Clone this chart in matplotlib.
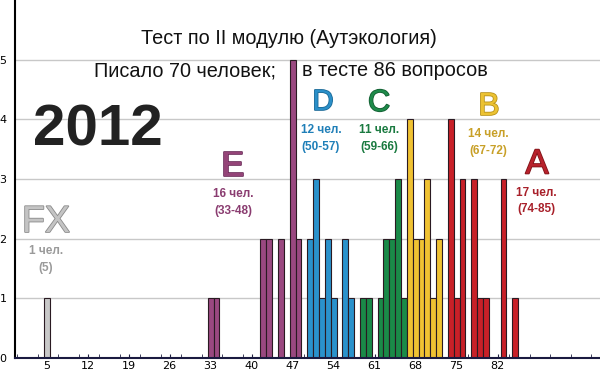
import matplotlib
matplotlib.use("Agg")
import matplotlib.pyplot as plt
import matplotlib.patheffects as pe
from matplotlib import font_manager
from matplotlib.ticker import MultipleLocator

# ---- data ----
scores_fx = [5]
counts_fx = [1]
scores_e = [33, 34, 42, 43, 45, 47, 48]
counts_e = [1, 1, 2, 2, 2, 5, 2]
scores_d = [50, 51, 52, 53, 54, 56, 57]
counts_d = [2, 3, 1, 2, 1, 2, 1]
scores_c = [59, 60, 62, 63, 64, 65, 66]
counts_c = [1, 1, 1, 2, 2, 3, 1]
scores_b = [67, 68, 69, 70, 71, 72]
counts_b = [4, 2, 2, 3, 1, 2]
scores_a = [74, 75, 76, 78, 79, 80, 83, 85]
counts_a = [4, 1, 3, 3, 1, 1, 3, 1]

x_ticks = [5, 12, 19, 26, 33, 40, 47, 54, 61, 68, 75, 82]
y_ticks = [0, 1, 2, 3, 4, 5]

title1 = "Тест по II модулю (Аутэкология)"
title2a = "Писало 70 человек;"
title2b = "в тесте 86 вопросов"
year = "2012"

grades = ["FX", "E", "D", "C", "B", "A"]
grade_counts = ["1 чел.", "16 чел.", "12 чел.", "11 чел.", "14 чел.", "17 чел."]
grade_ranges = ["(5)", "(33-48)", "(50-57)", "(59-66)", "(67-72)", "(74-85)"]

bar_colors = ["#c8c8c8", "#9a4880", "#2a92cc", "#1a8a48", "#f0c232", "#c82028"]
letter_colors = ["#c4c4c4", "#944478", "#2a8fc8", "#1e8a4a", "#ecc232", "#b8222c"]
letter_edges = ["#8a8a8a", "#6a2a58", "#1a6a98", "#125e32", "#b8921a", "#801418"]
sub_colors = ["#9a9a9a", "#8a3c70", "#1f7fb8", "#1a7a40", "#c8a028", "#a8202a"]

# ---- fonts ----
installed = {f.name for f in font_manager.fontManager.ttflist}
narrow_name = None
for cand in ["Liberation Sans Narrow", "DejaVu Sans Condensed"]:
    if cand in installed:
        narrow_name = cand
        break
sans = ["Liberation Sans", "DejaVu Sans"]
if narrow_name:
    narrow = [narrow_name, "DejaVu Sans"]
    title_size, sub_size = 17, 10
else:
    narrow = sans
    title_size, sub_size = 14.3, 8.5

# ---- figure ----
W, H = 600, 375
fig = plt.figure(figsize=(W / 100, H / 100), dpi=100)
ax = fig.add_axes([15 / W, 17 / H, 1.0, 358 / H])
ax.set_xlim(-0.4, -0.4 + 600 / 5.857)
ax.set_ylim(0, 6.0)

ax.set_axisbelow(True)
ax.yaxis.grid(True, color="#c8c8c8", linewidth=1.0)
ax.xaxis.grid(False)

groups = [(scores_fx, counts_fx), (scores_e, counts_e), (scores_d, counts_d),
          (scores_c, counts_c), (scores_b, counts_b), (scores_a, counts_a)]
for (s, c), col in zip(groups, bar_colors):
    ax.bar(s, c, width=1.0, color=col, edgecolor="#2a1a22", linewidth=0.8, zorder=2)

ax.set_xticks(x_ticks)
ax.xaxis.set_minor_locator(MultipleLocator(3.5))
ax.set_yticks(y_ticks)
ax.tick_params(axis="x", which="both", direction="in", length=3, labelsize=8, pad=2,
               color="#202040")
ax.tick_params(axis="y", which="both", direction="in", length=0, labelsize=8, pad=6)
for sp in ["top", "right"]:
    ax.spines[sp].set_visible(False)
ax.spines["left"].set_color("black")
ax.spines["left"].set_linewidth(1.5)
ax.spines["bottom"].set_color("#1a1a40")
ax.spines["bottom"].set_linewidth(1.5)


def ft(px, py, s, ha="center", **kw):
    fig.text(px / W, 1 - py / H, s, ha=ha, va="center", **kw)


ft(289, 38, title1, fontsize=title_size, family=narrow, color="#111111")
ft(276, 71, title2a, ha="right", fontsize=title_size, family=narrow, color="#111111")
ft(302, 71, title2b, ha="left", fontsize=title_size, family=narrow, color="#111111")
ft(98, 131, year, fontsize=42, family=sans, weight="bold", color="#222222")

letter_pos = [(46, 222, 27), (233, 166, 25), (323, 102, 21),
              (379, 103, 22), (489, 107, 23), (537, 164, 25)]
sub_pos = [(46, 251, 268), (233, 194, 211), (321, 130, 147),
           (379, 130, 147), (488, 134, 151), (536, 193, 209)]

for i, g in enumerate(grades):
    lx, ly, sz = letter_pos[i]
    ft(lx, ly, g, fontsize=sz, family=sans, color=letter_colors[i],
       path_effects=[pe.withStroke(linewidth=1.2, foreground=letter_edges[i])])
    sx, y1, y2 = sub_pos[i]
    ft(sx, y1, grade_counts[i], fontsize=sub_size, family=narrow, weight="bold",
       color=sub_colors[i])
    ft(sx, y2, grade_ranges[i], fontsize=sub_size, family=narrow, weight="bold",
       color=sub_colors[i])

fig.savefig("out.png", dpi=100)
